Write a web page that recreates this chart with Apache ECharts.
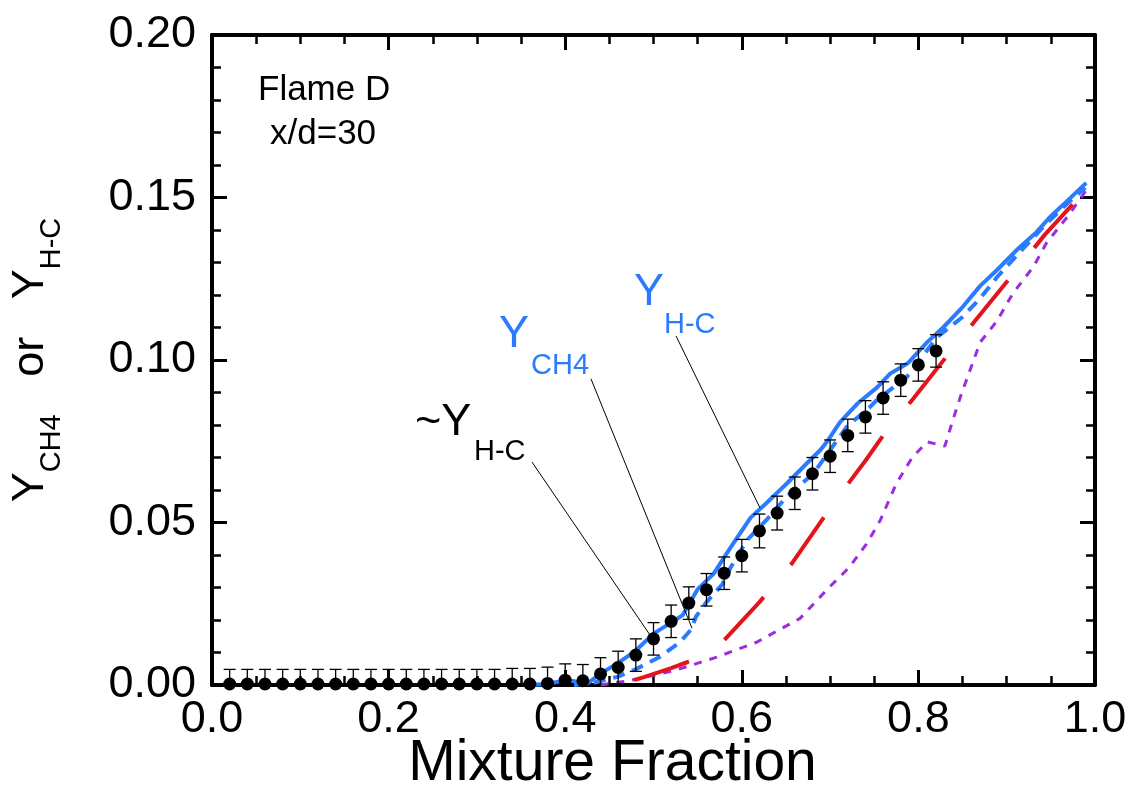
<!DOCTYPE html>
<html>
<head>
<meta charset="utf-8">
<script src="https://cdn.jsdelivr.net/npm/echarts@6/dist/echarts.min.js"></script>
<style>
  html, body { margin: 0; padding: 0; background: #fff; }
  #chart { width: 1133px; height: 797px; }
</style>
</head>
<body>
<div id="chart"></div>
<script>
// measured points (dots) with error bars
const dotX = [0.02, 0.04, 0.06, 0.08, 0.10, 0.12, 0.14, 0.16, 0.18, 0.20,
  0.22, 0.24, 0.26, 0.28, 0.30, 0.32, 0.34, 0.36, 0.38, 0.40,
  0.42, 0.44, 0.46, 0.48, 0.50, 0.52, 0.54, 0.56, 0.58, 0.60,
  0.62, 0.64, 0.66, 0.68, 0.70, 0.72, 0.74, 0.76, 0.78, 0.80, 0.82];
const dotY = [0.0003, 0.0003, 0.0003, 0.0003, 0.0003, 0.0003, 0.0003, 0.0003, 0.0003, 0.0003,
  0.0003, 0.0003, 0.0003, 0.0003, 0.0003, 0.0003, 0.0003, 0.0003, 0.0005, 0.0015,
  0.0013, 0.0034, 0.0054, 0.0092, 0.0142, 0.0196, 0.0252, 0.0293, 0.0344, 0.0398,
  0.0474, 0.0529, 0.0590, 0.0650, 0.0704, 0.0768, 0.0825, 0.0883, 0.0938, 0.0985, 0.1028];
const dotErr = [0.0045, 0.0045, 0.0045, 0.0045, 0.0045, 0.0045, 0.0045, 0.0045, 0.0045, 0.0045,
  0.0045, 0.0045, 0.0045, 0.0045, 0.0045, 0.0045, 0.0048, 0.0048, 0.005, 0.005,
  0.005, 0.005, 0.005, 0.005, 0.005, 0.005, 0.005, 0.005, 0.005, 0.005,
  0.0052, 0.0052, 0.005, 0.005, 0.005, 0.005, 0.005, 0.005, 0.005, 0.005, 0.005];

// Y_H-C (solid blue)
const hcX = [0.36, 0.38, 0.395, 0.41, 0.425, 0.44, 0.46, 0.48, 0.50, 0.52, 0.533, 0.55, 0.568,
  0.587, 0.61, 0.628, 0.651, 0.674, 0.689, 0.698, 0.711, 0.731, 0.753, 0.768, 0.788, 0.81,
  0.828, 0.85, 0.87, 0.889, 0.912, 0.934, 0.949, 0.968, 0.99];
const hcY = [0.0, 0.0003, 0.0012, 0.0012, 0.0004, 0.0035, 0.0068, 0.0106, 0.0158, 0.0192, 0.0215, 0.0295, 0.0342,
  0.0422, 0.0515, 0.0560, 0.0620, 0.0683, 0.0723, 0.0754, 0.0808, 0.0866, 0.0915, 0.0958, 0.0990, 0.1055,
  0.1100, 0.1163, 0.1228, 0.1277, 0.1340, 0.1394, 0.1440, 0.1488, 0.1545];

// Y_CH4 (dashed blue)
const chX = [0.41, 0.431, 0.459, 0.481, 0.507, 0.53, 0.543, 0.548, 0.56, 0.578, 0.587, 0.606,
  0.628, 0.651, 0.681, 0.70, 0.719, 0.745, 0.753, 0.787, 0.821, 0.849, 0.87, 0.889, 0.915,
  0.945, 0.968, 0.989];
const chY = [0.0, 0.0006, 0.0025, 0.005, 0.0086, 0.0132, 0.0172, 0.021, 0.0255, 0.031, 0.036, 0.0446,
  0.0508, 0.058, 0.065, 0.0723, 0.0795, 0.0855, 0.0877, 0.0948, 0.107, 0.113, 0.119, 0.1255, 0.1332,
  0.142, 0.148, 0.153];

// red long-dashed model
const ldX = [0.478, 0.49, 0.52, 0.538, 0.56, 0.578, 0.62, 0.657, 0.694, 0.722, 0.74, 0.762,
  0.793, 0.836, 0.867, 0.912, 0.943, 0.992];
const ldY = [0.0015, 0.0025, 0.0052, 0.007, 0.0095, 0.0132, 0.0255, 0.0375, 0.052, 0.0625, 0.069, 0.0775,
  0.0877, 0.1025, 0.113, 0.128, 0.1385, 0.153];

// purple short-dashed model
const pdX = [0.44, 0.454, 0.47, 0.492, 0.522, 0.572, 0.617, 0.666, 0.697, 0.722, 0.742, 0.757, 0.775,
  0.793, 0.81, 0.83, 0.839, 0.849, 0.86, 0.87, 0.889, 0.907, 0.93, 0.945, 0.97, 0.992];
const pdY = [0.0, 0.0006, 0.0012, 0.0025, 0.0043, 0.0086, 0.0132, 0.0205, 0.0295, 0.0363, 0.0437, 0.0508, 0.062,
  0.070, 0.0748, 0.0735, 0.0815, 0.0898, 0.098, 0.1055, 0.112, 0.1205, 0.1286, 0.136, 0.1445, 0.153];

// leader lines for labels: [x1, y1, x2, y2] in data units
const leaders = [
  [0.3624, 0.0686, 0.496, 0.0154],
  [0.4292, 0.0942, 0.5436, 0.0175],
  [0.5255, 0.1074, 0.6206, 0.0545]
];

const font = 'Liberation Sans, Arial, sans-serif';
const blue = '#2a7bff';
const red = '#e3141b';
const purple = '#9b2de0';

const chart = echarts.init(document.getElementById('chart'));

const pairs = (xs, ys) => xs.map((x, i) => [x, ys[i]]);

const baseX = {
  type: 'value', min: 0, max: 1, interval: 0.2,
  axisLine: { show: true, onZero: false, lineStyle: { color: '#000', width: 4 } },
  axisTick: { show: true, inside: true, length: 15, lineStyle: { color: '#000', width: 3 } },
  minorTick: { show: true, splitNumber: 4, length: 9, lineStyle: { color: '#000', width: 2.5 } },
  splitLine: { show: false }
};
const baseY = {
  type: 'value', min: 0, max: 0.2, interval: 0.05,
  axisLine: { show: true, onZero: false, lineStyle: { color: '#000', width: 4 } },
  axisTick: { show: true, inside: true, length: 15, lineStyle: { color: '#000', width: 3 } },
  minorTick: { show: true, splitNumber: 5, length: 9, lineStyle: { color: '#000', width: 2.5 } },
  splitLine: { show: false }
};

const option = {
  animation: false,
  backgroundColor: '#fff',
  grid: { left: 212, right: 38, top: 35, bottom: 112, containLabel: false, outerBoundsMode: 'none' },
  xAxis: [
    Object.assign({}, baseX, {
      position: 'bottom',
      axisLabel: { color: '#000', fontSize: 45, fontFamily: font, margin: 12, formatter: v => v.toFixed(1) },
      name: 'Mixture Fraction', nameLocation: 'middle', nameGap: 51, nameMoveOverlap: false,
      nameTextStyle: { color: '#000', fontSize: 57, fontFamily: font, padding: [0, 82, 0, 0] }
    }),
    Object.assign({}, baseX, { position: 'top', axisLabel: { show: false } })
  ],
  yAxis: [
    Object.assign({}, baseY, {
      position: 'left',
      axisLabel: { color: '#000', fontSize: 45, fontFamily: font, margin: 16, formatter: v => v.toFixed(2) },
      name: '{b|Y}{s|CH4}{b|   or   }{b|Y}{s|H-C}',
      nameLocation: 'middle', nameRotate: 90, nameGap: 154, nameMoveOverlap: false,
      nameTextStyle: {
        color: '#000', fontFamily: font,
        rich: {
          b: { fontSize: 45, fontFamily: font, color: '#000', lineHeight: 50, verticalAlign: 'top' },
          s: { fontSize: 29, fontFamily: font, color: '#000', lineHeight: 30, verticalAlign: 'top', padding: [29, 0, 0, 0] }
        }
      }
    }),
    Object.assign({}, baseY, { position: 'right', axisLabel: { show: false } })
  ],
  series: [
    {
      name: 'purple', type: 'line', data: pairs(pdX, pdY), showSymbol: false, z: 2,
      lineStyle: { color: purple, width: 3, type: [8, 8] }
    },
    {
      name: 'red', type: 'line', data: pairs(ldX, ldY), showSymbol: false, z: 3,
      lineStyle: { color: red, width: 4, type: [58, 42] }
    },
    {
      name: 'Y_CH4', type: 'line', data: pairs(chX, chY), showSymbol: false, z: 4,
      lineStyle: { color: blue, width: 4, type: [12, 8] }
    },
    {
      name: 'Y_H-C', type: 'line', data: pairs(hcX, hcY), showSymbol: false, z: 5,
      lineStyle: { color: blue, width: 4, type: 'solid' }
    },
    {
      name: 'err', type: 'custom', z: 6,
      data: dotX.map((x, i) => [x, Math.max(0, dotY[i] - dotErr[i]), dotY[i] + dotErr[i], dotY[i] - dotErr[i] < 0 ? 0 : 1]),
      renderItem: (params, api) => {
        const x = api.value(0);
        const lo = api.coord([x, api.value(1)]);
        const hi = api.coord([x, api.value(2)]);
        const w = 6;
        const st = { stroke: '#000', lineWidth: 1.3 };
        const kids = [
          { type: 'line', shape: { x1: hi[0], y1: hi[1], x2: lo[0], y2: lo[1] }, style: st },
          { type: 'line', shape: { x1: hi[0] - w, y1: hi[1], x2: hi[0] + w, y2: hi[1] }, style: st }
        ];
        if (api.value(3)) {
          kids.push({ type: 'line', shape: { x1: lo[0] - w, y1: lo[1], x2: lo[0] + w, y2: lo[1] }, style: st });
        }
        return { type: 'group', children: kids };
      }
    },
    {
      name: 'dots', type: 'scatter', data: pairs(dotX, dotY), z: 7,
      symbol: 'circle', symbolSize: 13, itemStyle: { color: '#000', opacity: 1 }
    },
    {
      name: 'leaders', type: 'custom', z: 8, data: leaders,
      renderItem: (params, api) => {
        const a = api.coord([api.value(0), api.value(1)]);
        const b = api.coord([api.value(2), api.value(3)]);
        return { type: 'line', shape: { x1: a[0], y1: a[1], x2: b[0], y2: b[1] }, style: { stroke: '#000', lineWidth: 1 } };
      }
    }
  ],
  graphic: [
    { type: 'text', left: 258, top: 73, style: { text: 'Flame D', font: '35px ' + font, fill: '#000' } },
    { type: 'text', left: 270, top: 117, style: { text: 'x/d=30', font: '35px ' + font, fill: '#000' } },
    { type: 'text', left: 415, top: 400, style: { text: '~Y', font: '45px ' + font, fill: '#000' } },
    { type: 'text', left: 474, top: 437, style: { text: 'H-C', font: '29px ' + font, fill: '#000' } },
    { type: 'text', left: 499, top: 312, style: { text: 'Y', font: '45px ' + font, fill: blue } },
    { type: 'text', left: 531, top: 351, style: { text: 'CH4', font: '29px ' + font, fill: blue } },
    { type: 'text', left: 634, top: 270, style: { text: 'Y', font: '45px ' + font, fill: blue } },
    { type: 'text', left: 664, top: 310, style: { text: 'H-C', font: '29px ' + font, fill: blue } }
  ]
};

chart.setOption(option);
</script>
</body>
</html>
